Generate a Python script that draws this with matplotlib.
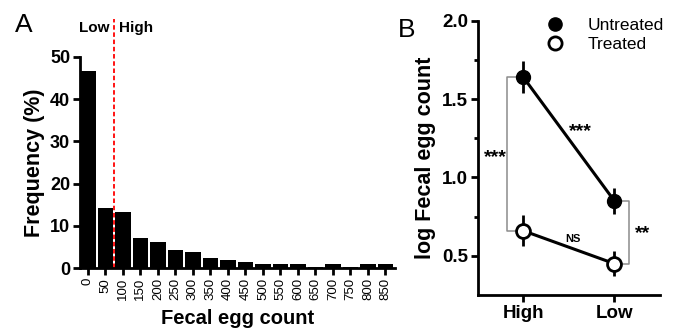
import matplotlib
matplotlib.use("Agg")
import matplotlib.pyplot as plt
from matplotlib.lines import Line2D
import numpy as np

plt.rcParams["font.family"] = ["Liberation Sans", "DejaVu Sans"]

# panel A: histogram of fecal egg counts
egg_bins = ["0", "50", "100", "150", "200", "250", "300", "350", "400",
            "450", "500", "550", "600", "650", "700", "750", "800", "850"]
freq = [46.6, 14.2, 13.4, 7.2, 6.1, 4.3, 3.8, 2.4, 1.9,
        1.5, 0.9, 0.9, 0.9, 0.2, 0.9, 0.2, 0.9, 0.9]
threshold_pos = 1.5  # between 50 and 100

# panel B: log fecal egg count by group
groups = ["High", "Low"]
untreated = [1.64, 0.85]
untreated_err = [0.10, 0.08]
treated = [0.66, 0.45]
treated_err = [0.10, 0.08]

fig = plt.figure(figsize=(6.8, 3.29), dpi=100)

# ---- A ----
axA = fig.add_axes([0.1176, 0.1845, 0.4634, 0.6432])
x = np.arange(len(egg_bins))
axA.bar(x, freq, width=0.88, color="black")
axA.set_xlim(-0.45, len(egg_bins) - 0.45)
axA.set_ylim(0, 50)
axA.set_yticks([0, 10, 20, 30, 40, 50])
axA.set_xticks(x)
axA.set_xticklabels(egg_bins, rotation=90, fontsize=9.5)
for lab in axA.get_yticklabels():
    lab.set_fontweight("bold")
    lab.set_fontsize(13)
axA.set_ylabel("Frequency (%)", fontsize=15.5, fontweight="bold", labelpad=4)
axA.set_xlabel("Fecal egg count", fontsize=14.5, fontweight="bold", labelpad=6)
for s in ("top", "right"):
    axA.spines[s].set_visible(False)
for s in ("left", "bottom"):
    axA.spines[s].set_linewidth(2)
axA.tick_params(axis="both", width=2, length=5, pad=2)
axA.axvline(threshold_pos, ymin=0, ymax=1.18, color="red", ls=(0, (2.5, 1.5)),
            lw=1.3, clip_on=False)
axA.text(threshold_pos - 0.28, 1.135, "Low", transform=axA.get_xaxis_transform(),
         ha="right", va="center", fontsize=11, fontweight="bold")
axA.text(threshold_pos + 0.28, 1.135, "High", transform=axA.get_xaxis_transform(),
         ha="left", va="center", fontsize=11, fontweight="bold")
fig.text(0.022, 0.925, "A", fontsize=19, ha="left", va="center")

# ---- B ----
axB = fig.add_axes([0.7025, 0.1033, 0.2681, 0.8337])
xb = np.arange(len(groups))
axB.errorbar(xb, untreated, yerr=untreated_err, color="black", lw=2.2,
             elinewidth=2, capsize=0, marker="o", ms=10, mfc="black",
             mec="black", zorder=3)
axB.errorbar(xb, treated, yerr=treated_err, color="black", lw=2.2,
             elinewidth=2, capsize=0, marker="o", ms=10, mfc="white",
             mec="black", mew=2, zorder=3)
axB.set_xlim(-0.5, 1.5)
axB.set_ylim(0.25, 2.0)
axB.set_yticks([0.5, 1.0, 1.5, 2.0])
axB.set_yticks([0.75, 1.25, 1.75], minor=True)
axB.set_xticks(xb)
axB.set_xticklabels(groups)
for lab in axB.get_yticklabels() + axB.get_xticklabels():
    lab.set_fontweight("bold")
    lab.set_fontsize(13.5)
axB.set_ylabel("log Fecal egg count", fontsize=15.5, fontweight="bold", labelpad=4)
for s in ("top", "right"):
    axB.spines[s].set_visible(False)
for s in ("left", "bottom"):
    axB.spines[s].set_linewidth(2)
axB.tick_params(axis="both", which="major", width=2, length=5, pad=2)
axB.tick_params(axis="y", which="minor", width=2, length=3)

# significance brackets
gray = "#8c8c8c"
axB.plot([-0.07, -0.18, -0.18, -0.07], [untreated[0], untreated[0], treated[0], treated[0]],
         color=gray, lw=1.1)
axB.text(-0.31, (untreated[0] + treated[0]) / 2 - 0.02, "***", ha="center", va="center",
         fontsize=14, fontweight="bold")
axB.plot([1.08, 1.165, 1.165, 1.08], [untreated[1], untreated[1], treated[1], treated[1]],
         color=gray, lw=1.1)
axB.text(1.31, (untreated[1] + treated[1]) / 2 - 0.01, "**", ha="center", va="center",
         fontsize=14, fontweight="bold")
axB.text(0.63, 1.29, "***", ha="center", va="center", fontsize=14, fontweight="bold")
axB.text(0.54, 0.61, "NS", ha="center", va="center", fontsize=8, fontweight="bold")

handles = [Line2D([], [], ls="none", marker="o", ms=9.5, mfc="black", mec="black"),
           Line2D([], [], ls="none", marker="o", ms=9.5, mfc="white", mec="black", mew=2)]
axB.legend(handles, ["Untreated", "Treated"], loc="upper left",
           bbox_to_anchor=(0.29, 1.035), frameon=False, fontsize=12.5,
           handletextpad=0.9, labelspacing=0.2, borderaxespad=0)
fig.text(0.585, 0.91, "B", fontsize=19, ha="left", va="center")

fig.savefig("out.png", dpi=100)
